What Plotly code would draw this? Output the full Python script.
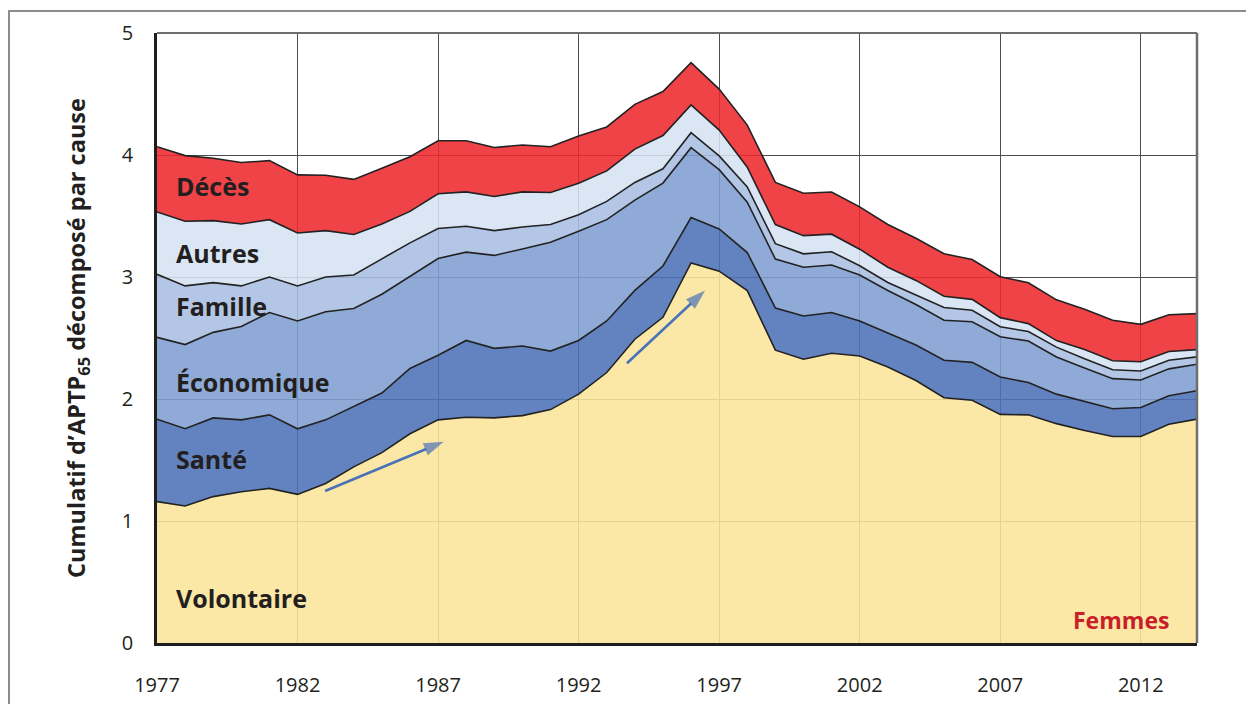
import plotly.graph_objects as go

years = list(range(1977, 2015))

volontaire = [1.159, 1.123, 1.200, 1.240, 1.267, 1.218, 1.308, 1.444, 1.560, 1.715,
              1.829, 1.850, 1.845, 1.864, 1.913, 2.040, 2.217, 2.490, 2.670, 3.115,
              3.048, 2.888, 2.400, 2.326, 2.375, 2.352, 2.262, 2.152, 2.010, 1.990,
              1.874, 1.870, 1.798, 1.742, 1.693, 1.693, 1.793, 1.835]
sante = [0.675, 0.633, 0.645, 0.589, 0.603, 0.538, 0.521, 0.493, 0.489, 0.535,
         0.529, 0.630, 0.570, 0.570, 0.480, 0.440, 0.423, 0.400, 0.420, 0.372,
         0.346, 0.312, 0.346, 0.354, 0.334, 0.288, 0.278, 0.290, 0.308, 0.310,
         0.306, 0.265, 0.242, 0.238, 0.227, 0.237, 0.234, 0.233]
economique = [0.671, 0.690, 0.701, 0.766, 0.839, 0.884, 0.886, 0.805, 0.810, 0.758,
              0.794, 0.724, 0.762, 0.796, 0.892, 0.895, 0.830, 0.740, 0.680, 0.573,
              0.486, 0.413, 0.401, 0.400, 0.389, 0.377, 0.350, 0.332, 0.327, 0.333,
              0.330, 0.340, 0.305, 0.275, 0.247, 0.226, 0.220, 0.217]
famille = [0.517, 0.481, 0.408, 0.332, 0.291, 0.287, 0.285, 0.274, 0.290, 0.272,
           0.245, 0.212, 0.203, 0.180, 0.145, 0.135, 0.150, 0.145, 0.117, 0.123,
           0.113, 0.125, 0.126, 0.110, 0.109, 0.075, 0.065, 0.076, 0.105, 0.094,
           0.082, 0.078, 0.080, 0.075, 0.073, 0.074, 0.071, 0.060]
autres = [0.511, 0.530, 0.508, 0.508, 0.470, 0.434, 0.380, 0.332, 0.286, 0.258,
          0.285, 0.282, 0.280, 0.288, 0.263, 0.259, 0.250, 0.273, 0.273, 0.227,
          0.211, 0.162, 0.157, 0.149, 0.144, 0.136, 0.125, 0.122, 0.092, 0.090,
          0.075, 0.065, 0.054, 0.075, 0.074, 0.075, 0.072, 0.060]
deces = [0.535, 0.538, 0.511, 0.503, 0.484, 0.476, 0.454, 0.452, 0.456, 0.448,
         0.435, 0.419, 0.402, 0.384, 0.375, 0.386, 0.360, 0.367, 0.360, 0.347,
         0.336, 0.345, 0.345, 0.347, 0.346, 0.347, 0.350, 0.346, 0.348, 0.326,
         0.335, 0.335, 0.334, 0.331, 0.332, 0.307, 0.300, 0.295]

series_names = ["Volontaire", "Santé", "Économique", "Famille", "Autres", "Décès"]
series_values = [volontaire, sante, economique, famille, autres, deces]
fill_colors = ["rgba(252,229,154,0.88)", "rgba(77,114,183,0.88)", "rgba(128,158,208,0.88)",
               "rgba(169,190,226,0.88)", "rgba(213,226,241,0.88)", "rgba(237,41,45,0.88)"]

x_ticks = [1977, 1982, 1987, 1992, 1997, 2002, 2007, 2012]
y_ticks = [0, 1, 2, 3, 4, 5]

# trend arrows (tail -> head), in data coordinates
arrows = [((1982.98, 1.246), (1987.2, 1.65)), ((1993.72, 2.293), (1996.5, 2.89))]

fig = go.Figure()
for name, vals, col in zip(series_names, series_values, fill_colors):
    fig.add_trace(go.Scatter(
        x=years, y=vals, name=name, stackgroup="one", mode="lines",
        line=dict(color="#222222", width=1.6), fillcolor=col,
        hoverinfo="x+y+name"))

for (x0, y0), (x1, y1) in arrows:
    fig.add_trace(go.Scatter(
        x=[x0, x1], y=[y0, y1], mode="lines+markers",
        line=dict(color="#4a72b8", width=2.6),
        marker=dict(symbol="arrow", size=[0, 21], angleref="previous",
                    color="#4a72b8", line=dict(width=0)),
        hoverinfo="skip"))

FONT = "Open Sans"
label_pos = {"Décès": 3.746, "Autres": 3.197, "Famille": 2.762,
             "Économique": 2.139, "Santé": 1.508, "Volontaire": 0.369}
annotations = []
for name, yv in label_pos.items():
    annotations.append(dict(x=1977.6, y=yv, xref="x", yref="y", text=name,
                            showarrow=False, xanchor="left", yanchor="middle",
                            font=dict(family=FONT, size=25, color="#231f20", weight="bold")))
annotations.append(dict(x=2013.08, y=0.19, xref="x", yref="y", text="Femmes",
                        showarrow=False, xanchor="right", yanchor="middle",
                        font=dict(family=FONT, size=23, color="#c8202a", weight="bold")))

shapes = [
    dict(type="line", xref="paper", yref="paper", x0=0, x1=1, y0=1, y1=1,
         line=dict(color="#6e6e6e", width=2)),
    dict(type="line", xref="paper", yref="paper", x0=1, x1=1, y0=0, y1=1,
         line=dict(color="#6e6e6e", width=2.5)),
    dict(type="rect", xref="paper", yref="paper", x0=-0.1423, x1=1.06, y0=-0.12, y1=1.0362,
         line=dict(color="#8c8c8c", width=2), fillcolor="rgba(0,0,0,0)", layer="below"),
]

fig.update_layout(
    width=1246, height=704,
    margin=dict(l=157, r=49, t=33, b=61),
    paper_bgcolor="white", plot_bgcolor="white",
    showlegend=False,
    font=dict(family=FONT, color="#231f20"),
    annotations=annotations, shapes=shapes,
    xaxis=dict(range=[1977, 2014], tickvals=x_ticks, ticktext=[str(t) for t in x_ticks],
               showgrid=True, gridcolor="#4d4d4d", gridwidth=1.3,
               showline=True, linecolor="#1e1e1e", linewidth=2.5,
               ticks="", ticklabelstandoff=22, zeroline=False, automargin=False,
               tickfont=dict(family=FONT, size=20, color="#231f20")),
    yaxis=dict(range=[0, 5], tickvals=y_ticks, ticktext=[str(t) for t in y_ticks],
               showgrid=True, gridcolor="#4d4d4d", gridwidth=1.3,
               showline=True, linecolor="#1e1e1e", linewidth=2.5,
               ticks="", ticklabelstandoff=17, zeroline=False, automargin=False,
               tickfont=dict(family=FONT, size=20, color="#231f20"),
               title=dict(text="Cumulatif d’APTP<sub>65</sub> décomposé par cause",
                          font=dict(family=FONT, size=23.5, color="#231f20", weight="bold"),
                          standoff=30)),
)

fig.write_html("out.html", config={"displayModeBar": False},
               post_script="document.body.style.margin='0';document.body.style.overflow='hidden';")
